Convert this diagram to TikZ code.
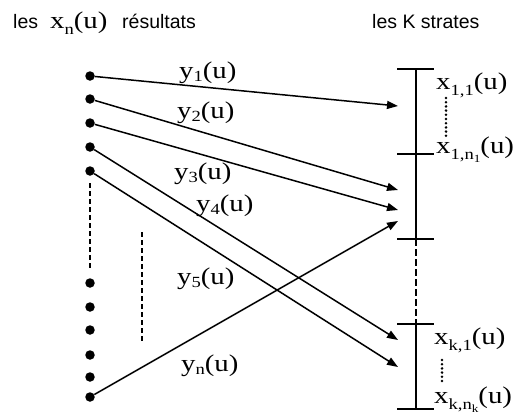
\documentclass[tikz,border=0pt]{standalone}
\usepackage{fontspec}
\setmainfont{Liberation Serif}
\newfontfamily\arialf{Liberation Sans}
\usetikzlibrary{arrows.meta}
\newcommand\mlab[1]{\scalebox{1.2}[1]{\fontsize{24}{26}\selectfont #1}}
\newcommand\sby[1]{\raisebox{-3pt}{\fontsize{15.5}{17}\selectfont #1}}
\newcommand\sbx[1]{\raisebox{-6pt}{\fontsize{15.5}{17}\selectfont #1}}
\newcommand\ssb[1]{\raisebox{-3pt}{\fontsize{11}{12}\selectfont #1}}
\begin{document}
\begin{tikzpicture}[x=1pt,y=-1pt,
  dotn/.style={circle,fill=black,inner sep=0pt,minimum size=9.5pt},
  conn/.style={line width=1.5pt,-{Triangle[length=11pt,width=8pt]}},
  tickl/.style={line width=1.5pt},
  lab/.style={inner sep=0pt,anchor=base west},
  sans/.style={inner sep=0pt,anchor=base west,font=\arialf\fontsize{19.5}{22}\selectfont},
  dsh/.style={line width=1.3pt,dash pattern=on 5pt off 3pt},
  dotv/.style={line width=2.8pt,line cap=round,dash pattern=on 0pt off 4.2pt}]
\useasboundingbox (0,0) rectangle (525,415);

% titles
\node[sans] (t1a) at (13,28) {les};
\node[lab] (t1b) at (50,28) {\mlab{x\sbx{n}(u)}};
\node[sans] (t1c) at (122,28) {résultats};
\node[sans] (t2) at (372,28) {les K strates};

% source dots
\node[dotn] (d1) at (90,76) {};
\node[dotn] (d2) at (90,99) {};
\node[dotn] (d3) at (90,123) {};
\node[dotn] (d4) at (90,147) {};
\node[dotn] (d5) at (90,171) {};
\node[dotn] (e1) at (90,283) {};
\node[dotn] (e2) at (90,307) {};
\node[dotn] (e3) at (90,330) {};
\node[dotn] (e4) at (90,355) {};
\node[dotn] (e5) at (90,377) {};
\node[dotn] (e6) at (90,397) {};

% dashed lines on the left
\coordinate (l1) at (90,183);
\coordinate (l2) at (90,268);
\coordinate (m1) at (142,232);
\coordinate (m2) at (142,342);
\draw[dsh] (l1) -- (l2);
\draw[dsh] (m1) -- (m2);

% strata axis
\coordinate (s0) at (416,69);
\coordinate (s1) at (416,154);
\coordinate (s2) at (416,239);
\coordinate (s3) at (416,324);
\coordinate (s4) at (416,409);
\draw[tickl] (s0) -- (s2);
\draw[dsh,dash pattern=on 7pt off 3pt] (s2) -- (s3);
\draw[tickl] (s3) -- (s4);
\foreach \s in {s0,s1,s2,s3,s4}
  \draw[tickl] ([xshift=-19pt]\s) -- ([xshift=18pt]\s);

% targets
\coordinate (a1) at (398,106);
\coordinate (a2) at (398,190);
\coordinate (a3) at (398,210);
\coordinate (an) at (398,221);
\coordinate (a4) at (398,340);
\coordinate (a5) at (398,367);

\draw[conn] (d1) -- (a1);
\draw[conn] (d2) -- (a2);
\draw[conn] (d3) -- (a3);
\draw[conn] (d4) -- (a4);
\draw[conn] (d5) -- (a5);
\draw[conn] (e6) -- (an);

% arrow labels
\node[lab] (y1) at (179,78) {\mlab{y\sby{1}(u)}};
\node[lab] (y2) at (177,118) {\mlab{y\sby{2}(u)}};
\node[lab] (y3) at (174,179) {\mlab{y\sby{3}(u)}};
\node[lab] (y4) at (196,211) {\mlab{y\sby{4}(u)}};
\node[lab] (y5) at (177,284) {\mlab{y\sby{5}(u)}};
\node[lab] (yn) at (181,371) {\mlab{y\sby{n}(u)}};

% strata labels
\node[lab] (x11) at (436,89) {\mlab{x\sbx{1,1}(u)}};
\node[lab] (x1n) at (436,153) {\mlab{x\sbx{1,n\ssb{1}}(u)}};
\node[lab] (xk1) at (434,344) {\mlab{x\sbx{k,1}(u)}};
\node[lab] (xkn) at (434,403) {\mlab{x\sbx{k,n\ssb{k}}(u)}};

\coordinate (p1) at (446,98);
\coordinate (p2) at (446,138);
\coordinate (q1) at (442,360);
\coordinate (q2) at (442,382);
\draw[dotv] (p1) -- (p2);
\draw[dotv] (q1) -- (q2);
\end{tikzpicture}
\end{document}
